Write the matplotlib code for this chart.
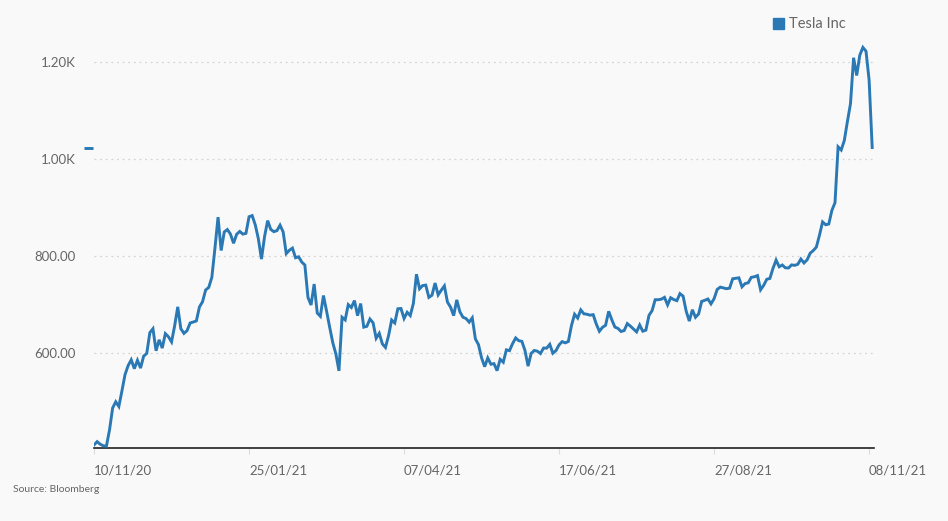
import matplotlib
matplotlib.use("Agg")
import matplotlib.pyplot as plt
import matplotlib.transforms as mtransforms
import numpy as np

# Tesla Inc close, one value per trading day (10 Nov 2020 - 9 Nov 2021)
nov20 = [410.4, 417.1, 411.8, 408.5, 408.1, 441.6, 486.6, 499.3, 489.6, 521.9,
         555.4, 574.0, 585.8, 567.6]
dec20 = [584.8, 568.8, 593.4, 599.0, 641.8, 649.9, 604.5, 627.1, 610.0, 639.8,
         633.3, 622.8, 655.9, 695.0, 649.9, 640.3, 646.0, 661.8, 663.7, 666.0,
         694.8, 705.7]
jan21 = [729.8, 735.1, 756.0, 816.0, 880.0, 811.2, 849.4, 854.4, 845.0, 826.2,
         844.6, 850.5, 845.0, 846.6, 880.8, 883.1, 864.2, 835.4, 793.5]
feb21 = [839.8, 872.8, 854.7, 850.0, 852.2, 863.4, 849.5, 804.8, 811.7, 816.1,
         796.2, 798.2, 787.4, 781.3, 714.5, 698.8, 742.0, 682.2, 675.5]
mar21 = [718.4, 686.4, 653.2, 621.4, 598.0, 563.0, 673.6, 668.1, 699.6, 693.7,
         707.9, 676.9, 701.8, 653.2, 654.9, 670.0, 662.2, 630.3, 640.4, 618.7,
         611.3, 635.6, 667.9]
apr21 = [661.8, 691.1, 691.6, 671.0, 683.8, 677.0, 702.0, 762.3, 732.2, 738.9,
         739.8, 714.6, 719.0, 744.1, 719.7, 729.4, 738.2, 704.7, 694.4, 677.0,
         709.4]
may21 = [684.9, 673.6, 670.9, 663.5, 672.4, 629.0, 617.2, 589.9, 571.7, 589.7,
         576.8, 577.9, 563.5, 586.8, 580.9, 606.4, 604.7, 619.1, 630.9, 625.2]
jun21 = [623.9, 605.1, 572.8, 599.1, 605.1, 603.6, 598.8, 610.1, 609.9, 617.7,
         599.4, 604.9, 616.6, 623.3, 620.8, 623.7, 656.6, 679.8, 671.9, 688.7,
         680.8, 679.7]
jul21 = [677.9, 678.9, 659.6, 644.7, 652.8, 657.0, 685.7, 668.5, 653.4, 650.6,
         644.2, 646.2, 660.5, 655.3, 649.3, 643.4, 657.6, 644.8, 647.0, 677.4,
         687.2]
aug21 = [709.7, 709.7, 710.9, 714.6, 699.1, 713.8, 710.0, 707.8, 722.3, 717.2,
         686.2, 665.7, 689.0, 673.5, 680.3, 706.3, 708.5, 711.2, 701.2, 711.9,
         730.9, 735.7]
sep21 = [734.1, 732.4, 733.6, 752.9, 753.9, 754.9, 736.3, 743.0, 744.5, 755.8,
         757.0, 759.5, 730.2, 739.4, 751.9, 753.6, 774.4, 791.4, 777.6, 781.3,
         775.5]
oct21 = [775.2, 781.5, 780.6, 782.8, 793.6, 785.5, 791.9, 805.7, 811.1, 818.3,
         843.0, 870.1, 864.3, 865.8, 894.0, 909.7, 1024.9, 1018.4, 1037.9, 1077.0,
         1114.0]
nov21 = [1208.6, 1172.0, 1213.9, 1229.9, 1222.1, 1162.9, 1023.5]

tesla = nov20 + dec20 + jan21 + feb21 + mar21 + apr21 + may21 + jun21 + jul21 + aug21 + sep21 + oct21 + nov21

# x axis counts trading days, labelled every 50 sessions
tick_labels = ["10/11/20", "25/01/21", "07/04/21", "17/06/21", "27/08/21", "08/11/21"]
tick_step = 50
y_ticks = [600, 800, 1000, 1200]
y_labels = ["600.00", "800.00", "1.00K", "1.20K"]

BLUE = "#2a79b5"
BG = "#f9f9f9"
GREY = "#666666"
FONT = ["Lato", "DejaVu Sans"]

plt.rcParams["font.family"] = FONT

fig = plt.figure(figsize=(9.48, 5.21), dpi=100, facecolor=BG)
ax = fig.add_axes([0.0992, 0.1401, 0.8228, 0.7783], facecolor=BG)

x = np.arange(len(tesla))
ax.plot(x, tesla, color=BLUE, lw=2.1, solid_joinstyle="miter", zorder=3)

# last-value marker next to the y axis
trans = mtransforms.blended_transform_factory(ax.transAxes, ax.transData)
ax.plot([-0.0135, -0.001], [tesla[-1], tesla[-1]], color=BLUE, lw=2.1,
        transform=trans, clip_on=False, solid_capstyle="butt")

ax.set_xlim(0, len(tesla) - 0.4)
ax.set_ylim(404, 1240)

ax.set_yticks(y_ticks)
ax.set_yticklabels(y_labels)
ax.yaxis.grid(True, color="#d4d4d4", linestyle=(0, (1.5, 3)), lw=0.9)
ax.set_axisbelow(True)

ax.set_xticks([i * tick_step for i in range(len(tick_labels))])
ax.set_xticklabels(tick_labels, ha="left")

for s in ["top", "right", "left"]:
    ax.spines[s].set_visible(False)
ax.spines["bottom"].set_color("#222222")
ax.spines["bottom"].set_linewidth(1.2)

ax.tick_params(axis="y", length=0, pad=13, labelsize=9.5, labelcolor=GREY)
ax.tick_params(axis="x", length=4, width=0.8, color="#dddddd", pad=8,
               labelsize=9.5, labelcolor=GREY)

# legend
fig.patches.append(plt.Rectangle((773 / 948, 1 - 29 / 521), 11 / 948, 11 / 521,
                                 transform=fig.transFigure, color=BLUE))
fig.text(789 / 948, 1 - 24 / 521, "Tesla Inc", fontsize=10.5, color=GREY,
         va="center", ha="left")

fig.text(13 / 948, 1 - 490 / 521, "Source: Bloomberg", fontsize=7.5,
         color=GREY, va="center", ha="left")

fig.savefig("out.png", dpi=100, facecolor=BG)
